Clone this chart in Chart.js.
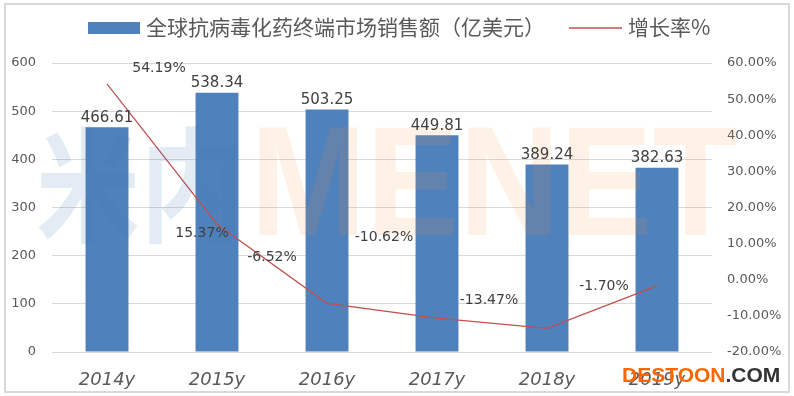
<!DOCTYPE html>
<html>
<head>
<meta charset="utf-8">
<script src="https://cdn.jsdelivr.net/npm/chart.js@4/dist/chart.umd.min.js"></script>
<style>
html,body{margin:0;padding:0;background:#fff;}
#wrap{width:794px;height:396px;position:relative;}
</style>
</head>
<body>
<div id="wrap"><canvas id="myChart" width="794" height="396"></canvas></div>
<script>
var years = ['2014y','2015y','2016y','2017y','2018y','2019y'];
var sales = [466.61, 538.34, 503.25, 449.81, 389.24, 382.63];
var growth = [54.19, 15.37, -6.52, -10.62, -13.47, -1.70];
var salesLabel = '全球抗病毒化药终端市场销售额（亿美元）';
var growthLabel = '增长率%';

// hand placed growth labels (offset from point, px)
var growthOffsets = [[52,-16],[-15,9],[-55,-46],[-53,-81],[-58,-28],[-53,0]];

var blue = '#4F81BD';
var red = '#C0504D';
var txt = '#595959';

var decor = {
	id: 'decor',
	afterDatasetsDraw: function(chart){
		var ctx = chart.ctx;
		ctx.save();
		// watermark
		ctx.textBaseline = 'alphabetic';
		ctx.textAlign = 'left';
		ctx.fillStyle = 'rgba(70,130,180,0.15)';
		ctx.font = 'bold 124px "Noto Sans CJK SC"';
		ctx.fillText('米内', 36, 232, 208);
		ctx.fillStyle = 'rgba(245,140,50,0.12)';
		ctx.font = 'bold 156px "Liberation Sans"';
		ctx.fillText('MENET', 250, 235, 488);

		// bar values
		var barMeta = chart.getDatasetMeta(1);
		ctx.fillStyle = '#404040';
		ctx.font = '15px "DejaVu Sans"';
		ctx.textAlign = 'center';
		ctx.textBaseline = 'bottom';
		for(var i in barMeta.data){
			var b = barMeta.data[i];
			ctx.fillText(sales[i].toFixed(2), b.x, b.y - 2);
		}
		// growth values
		var lineMeta = chart.getDatasetMeta(0);
		ctx.font = '14px "DejaVu Sans"';
		ctx.textBaseline = 'middle';
		for(var j in lineMeta.data){
			var p = lineMeta.data[j];
			ctx.fillText(growth[j].toFixed(2)+'%', p.x + growthOffsets[j][0], p.y + growthOffsets[j][1]);
		}
		ctx.restore();
	},
	afterDraw: function(chart){
		var ctx = chart.ctx;
		ctx.save();
		// legend
		ctx.fillStyle = blue;
		ctx.fillRect(88, 22, 52, 12);
		ctx.fillStyle = txt;
		ctx.font = '21px "Noto Sans CJK SC"';
		ctx.textBaseline = 'middle';
		ctx.textAlign = 'left';
		ctx.fillText(salesLabel, 146, 27);
		ctx.strokeStyle = red;
		ctx.lineWidth = 1.5;
		ctx.beginPath();
		ctx.moveTo(569, 28);
		ctx.lineTo(622, 28);
		ctx.stroke();
		ctx.fillText(growthLabel, 628, 27);

		// site mark
		ctx.font = 'bold 21px "Liberation Sans"';
		ctx.textBaseline = 'alphabetic';
		ctx.fillStyle = '#FF6600';
		ctx.fillText('DESTOON', 622, 382);
		var w = ctx.measureText('DESTOON').width;
		ctx.fillStyle = '#333333';
		ctx.fillText('.COM', 622 + w, 382);

		// frame
		ctx.strokeStyle = '#d9d9d9';
		ctx.lineWidth = 2;
		ctx.strokeRect(5, 4, 784, 388);
		ctx.restore();
	}
};

var ctx = document.getElementById('myChart').getContext('2d');
var chart = new Chart(ctx, {
	type: 'bar',
	data: {
		labels: years,
		datasets: [{
			type: 'line',
			label: growthLabel,
			data: growth,
			yAxisID: 'y1',
			borderColor: red,
			borderWidth: 1.2,
			pointRadius: 0,
			tension: 0,
			fill: false,
			order: 0
		},{
			type: 'bar',
			label: salesLabel,
			data: sales,
			yAxisID: 'y',
			backgroundColor: blue,
			categoryPercentage: 1,
			barPercentage: 0.39,
			order: 1
		}]
	},
	options: {
		responsive: false,
		animation: false,
		layout: { padding: { top: 63, left: 0, right: 0, bottom: 0 } },
		plugins: {
			legend: { display: false },
			tooltip: { enabled: false }
		},
		scales: {
			x: {
				grid: { display: false },
				border: { display: false },
				ticks: {
					color: txt,
					padding: 10,
					font: { family: 'DejaVu Sans', size: 18, style: 'italic' }
				},
				afterFit: function(s){ s.height = 44; }
			},
			y: {
				position: 'left',
				min: 0, max: 600,
				ticks: {
					stepSize: 100,
					color: txt,
					padding: 16,
					font: { family: 'DejaVu Sans', size: 13 }
				},
				grid: { color: '#d9d9d9', drawTicks: false },
				border: { display: false },
				afterFit: function(s){ s.width = 52; }
			},
			y1: {
				position: 'right',
				min: -20, max: 60,
				ticks: {
					stepSize: 10,
					color: txt,
					padding: 15,
					font: { family: 'DejaVu Sans', size: 13 },
					callback: function(v){ return v.toFixed(2) + '%'; }
				},
				grid: { drawOnChartArea: false, drawTicks: false },
				border: { display: false },
				afterFit: function(s){ s.width = 82; }
			}
		}
	},
	plugins: [decor]
});
</script>
</body>
</html>
